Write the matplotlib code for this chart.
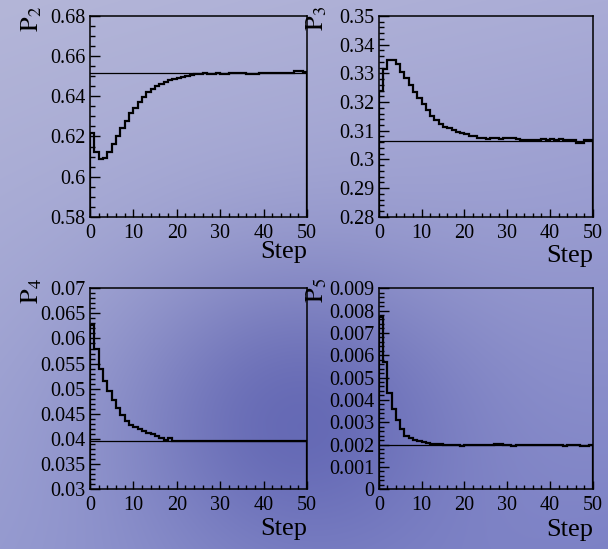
import matplotlib
matplotlib.use('Agg')
import matplotlib.pyplot as plt
from matplotlib.ticker import MultipleLocator, FuncFormatter
import numpy as np

plt.rcParams['font.family'] = 'Liberation Serif'
plt.rcParams['mathtext.fontset'] = 'stix'

# bin edges for the 50 steps
edges = np.arange(51)

# probability per step, with the equilibrium value drawn as a flat line
p2 = [0.6219, 0.6125, 0.6090, 0.6095, 0.6123, 0.6161, 0.6202, 0.6240, 0.6277, 0.6318,
      0.6343, 0.6371, 0.6397, 0.6422, 0.6434, 0.6450, 0.6463, 0.6472, 0.6480, 0.6487,
      0.6492, 0.6497, 0.6502, 0.6506, 0.6510, 0.6513, 0.6514, 0.6512, 0.6511, 0.6514,
      0.6513, 0.6511, 0.6514, 0.6516, 0.6515, 0.6514, 0.6513, 0.6512, 0.6512, 0.6514,
      0.6515, 0.6514, 0.6515, 0.6514, 0.6516, 0.6517, 0.6518, 0.6524, 0.6526, 0.6520]
p2_eq = 0.6518

p3 = [0.3240, 0.3315, 0.3347, 0.3347, 0.3333, 0.3306, 0.3283, 0.3260, 0.3236, 0.3213,
      0.3193, 0.3173, 0.3152, 0.3138, 0.3124, 0.3114, 0.3109, 0.3103, 0.3097, 0.3091,
      0.3088, 0.3083, 0.3080, 0.3076, 0.3073, 0.3072, 0.3075, 0.3073, 0.3072, 0.3074,
      0.3074, 0.3076, 0.3072, 0.3069, 0.3068, 0.3068, 0.3069, 0.3068, 0.3070, 0.3069,
      0.3071, 0.3069, 0.3070, 0.3068, 0.3069, 0.3068, 0.3058, 0.3056, 0.3067, 0.3068]
p3_eq = 0.3063

p4 = [0.0627, 0.0579, 0.0540, 0.0515, 0.0495, 0.0478, 0.0461, 0.0448, 0.0435, 0.0427,
      0.0423, 0.0419, 0.0415, 0.0412, 0.0410, 0.0405, 0.0401, 0.0398, 0.0401, 0.0396,
      0.03955, 0.03957, 0.03953, 0.03955, 0.03956, 0.03954, 0.03957, 0.03958, 0.03955, 0.03957,
      0.03959, 0.03956, 0.03955, 0.03958, 0.03957, 0.03955, 0.03953, 0.03956, 0.03957, 0.03955,
      0.03954, 0.03956, 0.03955, 0.03957, 0.03958, 0.03956, 0.03955, 0.03957, 0.03958, 0.03956]
p4_eq = 0.0395

p5 = [0.0077, 0.0057, 0.0043, 0.0036, 0.0031, 0.0027, 0.0024, 0.0023, 0.00222, 0.00215,
      0.0021, 0.00206, 0.00203, 0.00201, 0.00203, 0.0020, 0.00199, 0.00198, 0.00196, 0.00194,
      0.00197, 0.00199, 0.00198, 0.0020, 0.00199, 0.0020, 0.00199, 0.00202, 0.00201, 0.00199,
      0.00196, 0.00194, 0.00197, 0.00198, 0.00199, 0.0020, 0.00198, 0.00197, 0.00198, 0.00199,
      0.00197, 0.00198, 0.00196, 0.00195, 0.00197, 0.00198, 0.00197, 0.00194, 0.00195, 0.00197]
p5_eq = 0.00198

fig = plt.figure(figsize=(6.08, 5.49), dpi=100)

# bluish slide-style backdrop
h, w = 549, 608
yy, xx = np.mgrid[0:h, 0:w]
u = xx / (w - 1)
v = yy / (h - 1)
tl = np.array([180, 182, 216])
tr = np.array([170, 172, 214])
bl = np.array([150, 155, 208])
br = np.array([125, 130, 198])
bg = (tl * ((1 - u) * (1 - v))[..., None] + tr * (u * (1 - v))[..., None]
      + bl * ((1 - u) * v)[..., None] + br * (u * v)[..., None])
blob = np.exp(-(((xx - 290) / 170.0) ** 2 + ((yy - 410) / 150.0) ** 2))
bg = bg - blob[..., None] * np.array([45, 45, 25])
bg = np.clip(bg, 0, 255) / 255.0
ax_bg = fig.add_axes([0, 0, 1, 1], zorder=-10)
ax_bg.imshow(bg, aspect='auto')
ax_bg.axis('off')

fmt = FuncFormatter(lambda val, pos: f'{round(val, 6):g}')

panels = [
    ([0.148, 0.605, 0.357, 0.366], p2, p2_eq, '2', (0.58, 0.68), 0.02, 0.005, -0.27, -0.12),
    ([0.623, 0.605, 0.352, 0.366], p3, p3_eq, '3', (0.28, 0.35), 0.01, 0.002, -0.29, -0.14),
    ([0.148, 0.109, 0.357, 0.366], p4, p4_eq, '4', (0.03, 0.07), 0.005, 0.001, -0.27, -0.145),
    ([0.623, 0.109, 0.352, 0.366], p5, p5_eq, '5', (0.0, 0.009), 0.001, 0.0002, -0.29, -0.15),
]

for rect, vals, eq, idx, ylim, major, minor, lx, sy in panels:
    ax = fig.add_axes(rect)
    ax.set_facecolor('none')
    ax.stairs(vals, edges, baseline=ylim[0], color='black', linewidth=1.6)
    ax.axhline(eq, color='black', linewidth=0.9)
    ax.set_xlim(0, 50)
    ax.set_ylim(*ylim)
    ax.xaxis.set_major_locator(MultipleLocator(10))
    ax.xaxis.set_minor_locator(MultipleLocator(2))
    ax.yaxis.set_major_locator(MultipleLocator(major))
    ax.yaxis.set_minor_locator(MultipleLocator(minor))
    ax.yaxis.set_major_formatter(fmt)
    ax.tick_params(which='both', direction='in', top=False, right=False,
                   labelsize=14.5, width=1.0, color='black')
    ax.tick_params(axis='y', which='major', length=7, pad=3)
    ax.tick_params(axis='y', which='minor', length=3.5)
    ax.tick_params(axis='x', which='major', length=6, pad=5)
    ax.tick_params(axis='x', which='minor', length=3)
    for s in ax.spines.values():
        s.set_linewidth(1.1)
    ax.text(1.0, sy, 'Step', transform=ax.transAxes, ha='right', va='top',
            fontsize=19)
    ax.text(lx, 1.05, r'$\mathrm{P}_{' + idx + '}$', transform=ax.transAxes,
            rotation=90, ha='center', va='top', fontsize=19)

fig.savefig('out.png', dpi=100)
